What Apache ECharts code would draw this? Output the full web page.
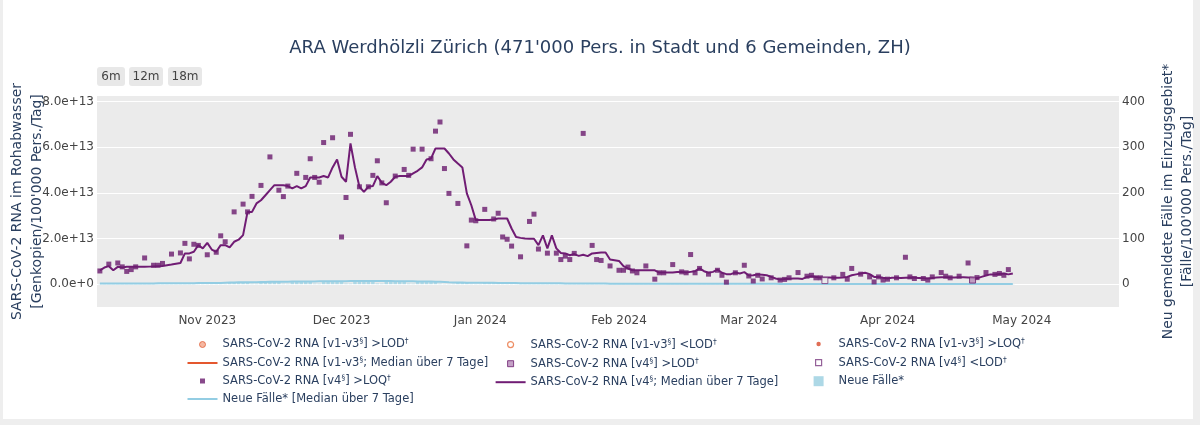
<!DOCTYPE html>
<html><head><meta charset="utf-8">
<script src="https://cdn.jsdelivr.net/npm/echarts@6/dist/echarts.min.js"></script>
<style>html,body{margin:0;padding:0;background:#fff}#c{width:1200px;height:425px}</style>
</head><body><div id="c"></div>
<script>
// ---------- DATA ----------
const titleText = "ARA Werdhölzli Zürich (471'000 Pers. in Stadt und 6 Gemeinden, ZH)";
const monthNames = ['Jan','Feb','Mar','Apr','May','Jun','Jul','Aug','Sep','Oct','Nov','Dec'];
const rangeButtons = ['6m', '12m', '18m'];
const leftTickValuesE13 = [0, 2, 4, 6, 8];
const rightTickValues = [0, 100, 200, 300, 400];

// SARS-CoV-2 RNA [v4] >LOQ measurements (values in 1e13 Genkopien/100'000 Pers./Tag)
const v4LoqDates = ['2023-10-08','2023-10-10','2023-10-12','2023-10-13','2023-10-14','2023-10-15','2023-10-16','2023-10-18','2023-10-20','2023-10-21','2023-10-22','2023-10-24','2023-10-26','2023-10-27','2023-10-28','2023-10-29','2023-10-30','2023-11-01','2023-11-03','2023-11-04','2023-11-05','2023-11-07','2023-11-09','2023-11-10','2023-11-11','2023-11-13','2023-11-15','2023-11-17','2023-11-18','2023-11-19','2023-11-21','2023-11-23','2023-11-24','2023-11-25','2023-11-26','2023-11-27','2023-11-29','2023-12-01','2023-12-02','2023-12-03','2023-12-05','2023-12-07','2023-12-08','2023-12-09','2023-12-10','2023-12-11','2023-12-13','2023-12-15','2023-12-16','2023-12-17','2023-12-19','2023-12-21','2023-12-22','2023-12-23','2023-12-24','2023-12-25','2023-12-27','2023-12-29','2023-12-30','2023-12-31','2024-01-02','2024-01-04','2024-01-05','2024-01-06','2024-01-07','2024-01-08','2024-01-10','2024-01-12','2024-01-13','2024-01-14','2024-01-16','2024-01-18','2024-01-19','2024-01-20','2024-01-21','2024-01-22','2024-01-24','2024-01-26','2024-01-27','2024-01-28','2024-01-30','2024-02-01','2024-02-02','2024-02-03','2024-02-04','2024-02-05','2024-02-07','2024-02-09','2024-02-10','2024-02-11','2024-02-13','2024-02-15','2024-02-16','2024-02-17','2024-02-18','2024-02-19','2024-02-21','2024-02-23','2024-02-24','2024-02-25','2024-02-27','2024-02-29','2024-03-01','2024-03-02','2024-03-03','2024-03-04','2024-03-06','2024-03-08','2024-03-09','2024-03-10','2024-03-12','2024-03-14','2024-03-15','2024-03-16','2024-03-17','2024-03-20','2024-03-22','2024-03-23','2024-03-24','2024-03-26','2024-03-28','2024-03-29','2024-03-30','2024-03-31','2024-04-01','2024-04-03','2024-04-05','2024-04-06','2024-04-07','2024-04-09','2024-04-10','2024-04-11','2024-04-13','2024-04-14','2024-04-15','2024-04-17','2024-04-19','2024-04-21','2024-04-23','2024-04-25','2024-04-26','2024-04-27','2024-04-28'];
const v4LoqValuesE13 = [0.58,0.88,0.93,0.76,0.56,0.64,0.76,1.15,0.83,0.83,0.91,1.32,1.37,1.79,1.11,1.75,1.70,1.29,1.40,2.12,1.86,3.17,3.51,3.17,3.85,4.33,5.58,4.12,3.84,4.30,4.86,4.68,5.50,4.68,4.47,6.21,6.42,2.07,3.80,6.57,4.27,4.27,4.77,5.41,4.44,3.57,4.74,5.03,4.77,5.92,5.92,5.50,6.71,7.11,5.07,3.98,3.54,1.68,2.81,2.78,3.28,2.86,3.11,2.07,1.97,1.67,1.20,2.75,3.07,1.54,1.36,1.36,1.08,1.23,1.08,1.35,6.61,1.70,1.08,1.04,0.80,0.61,0.61,0.75,0.58,0.50,0.80,0.22,0.50,0.50,0.86,0.54,0.50,1.30,0.50,0.69,0.44,0.61,0.39,0.09,0.50,0.83,0.36,0.14,0.39,0.23,0.28,0.18,0.21,0.28,0.51,0.35,0.39,0.28,0.28,0.28,0.43,0.22,0.69,0.44,0.32,0.10,0.32,0.18,0.22,0.28,1.18,0.32,0.25,0.25,0.18,0.32,0.51,0.35,0.28,0.35,0.93,0.29,0.51,0.43,0.47,0.39,0.64];

// [v4] >LOD and <LOD measurements
const v4LodDates = ['2024-04-20'];
const v4LodValuesE13 = [0.18];
const v4BelowLodDates = ['2024-03-18'];
const v4BelowLodValuesE13 = [0.16];

// Daily series start (one value per day from this date)
const dailyStart = [2023, 10, 8];

// [v4] Median über 7 Tage (1e13 units), daily from 2023-10-08
const v4MedianE13 = [
0.61,0.73,0.79,0.61,0.76,0.73,0.76,0.76,0.76,0.76,
0.76,0.77,0.78,0.79,0.80,0.83,0.86,0.90,0.93,1.35,
1.35,1.42,1.71,1.57,1.81,1.52,1.42,1.71,1.71,1.61,
1.86,1.95,2.15,3.17,3.17,3.54,3.68,3.90,4.12,4.34,
4.34,4.34,4.30,4.20,4.30,4.20,4.30,4.68,4.68,4.68,
4.74,4.68,5.12,5.47,4.71,4.49,6.17,5.12,4.27,4.05,
4.27,4.30,4.74,4.44,4.34,4.49,4.71,4.74,4.74,4.74,
4.86,4.97,5.12,5.47,5.51,5.95,5.95,5.95,5.73,5.47,
5.29,5.12,3.98,3.46,2.81,2.81,2.81,2.81,2.84,2.88,
2.88,2.88,2.44,2.07,2.03,2.00,1.99,1.99,1.71,2.14,
1.57,2.14,1.57,1.37,1.35,1.27,1.32,1.24,1.29,1.23,
1.35,1.37,1.39,1.39,1.08,1.05,1.02,0.79,0.69,0.61,
0.61,0.61,0.61,0.61,0.61,0.51,0.51,0.51,0.51,0.53,
0.54,0.51,0.54,0.57,0.69,0.57,0.50,0.54,0.64,0.50,
0.44,0.44,0.51,0.47,0.53,0.38,0.39,0.43,0.41,0.39,
0.32,0.25,0.21,0.23,0.24,0.25,0.25,0.23,0.32,0.35,
0.32,0.29,0.29,0.29,0.28,0.28,0.29,0.32,0.39,0.43,
0.47,0.50,0.44,0.32,0.32,0.28,0.25,0.28,0.28,0.27,
0.28,0.29,0.28,0.27,0.26,0.25,0.27,0.29,0.30,0.30,
0.29,0.29,0.30,0.30,0.29,0.28,0.26,0.32,0.38,0.43,
0.43,0.45,0.47,0.43,0.47];

// Neue Fälle* (Fälle/100'000 Pers./Tag), daily from 2023-10-08
const newCases = [
0.5,2.0,2.0,1.5,1.8,1.6,0.4, 0.5,2.2,2.0,1.8,1.7,1.5,0.5,
0.6,2.4,2.2,2.0,2.1,1.8,0.5, 0.6,2.8,2.6,2.5,2.7,2.4,0.7,
0.8,4.5,4.2,4.0,4.3,3.8,1.0, 0.9,5.5,5.2,5.0,5.3,4.6,1.2,
1.0,6.5,6.0,5.8,6.2,5.5,1.3, 1.1,7.0,6.6,6.4,6.8,6.0,1.4,
1.2,7.5,7.0,6.8,7.2,6.4,1.5, 1.2,7.2,6.8,6.5,6.9,6.2,1.4,
1.1,6.5,6.0,5.8,6.1,5.2,1.2, 0.5,0.6,0.8,3.5,3.8,3.2,0.8,
0.4,0.6,3.5,3.4,3.0,2.8,0.6, 0.5,2.6,2.4,2.2,2.3,2.0,0.5,
0.4,2.0,1.9,1.8,1.8,1.6,0.4, 0.4,1.6,1.5,1.4,1.4,1.2,0.3,
0.3,1.3,1.2,1.1,1.1,1.0,0.3, 0.3,1.1,1.0,0.9,1.0,0.8,0.2,
0.2,1.0,0.9,0.9,0.8,0.7,0.2, 0.2,0.9,0.8,0.8,0.8,0.7,0.2,
0.2,0.8,0.8,0.7,0.7,0.6,0.2, 0.2,0.8,0.7,0.7,0.6,0.6,0.2,
0.2,0.7,0.7,0.6,0.6,0.5,0.1, 0.2,0.7,0.6,0.6,0.6,0.5,0.1,
0.1,0.6,0.6,0.5,0.5,0.1,0.1, 0.1,0.1,0.7,0.6,0.5,0.5,0.1,
0.1,0.6,0.5,0.5,0.5,0.4,0.1, 0.1,0.5,0.5,0.5,0.4,0.4,0.1,
0.1,0.5,0.5,0.4,0.4,0.4,0.1, 0.1,0.4];

// Neue Fälle* [Median über 7 Tage], daily from 2023-10-08
const newCasesMedian = [
1.6,1.6,1.6,1.6,1.7,1.7,1.7, 1.7,1.7,1.7,1.7,1.7,1.7,1.8,
1.8,1.9,2.0,2.0,2.0,2.0,2.1, 2.2,2.4,2.5,2.5,2.5,2.6,2.8,
3.2,3.6,3.9,4.0,4.1,4.2,4.3, 4.5,4.8,5.0,5.1,5.2,5.2,5.3,
5.5,5.7,5.8,5.9,6.0,6.0,6.1, 6.2,6.3,6.4,6.5,6.5,6.6,6.7,
6.8,6.8,6.9,6.9,7.0,7.0,7.0, 7.0,6.9,6.8,6.7,6.6,6.5,6.4,
6.2,6.0,5.9,5.8,5.7,5.6,5.4, 4.8,4.0,3.6,3.6,3.5,3.4,3.3,
3.2,3.0,3.0,3.0,2.9,2.8,2.7, 2.6,2.5,2.4,2.3,2.3,2.2,2.1,
2.0,2.0,1.9,1.8,1.8,1.8,1.7, 1.6,1.6,1.5,1.5,1.4,1.4,1.4,
1.3,1.3,1.2,1.2,1.2,1.1,1.1, 1.1,1.0,1.0,1.0,1.0,0.9,0.9,
0.9,0.9,0.9,0.9,0.9,0.8,0.8, 0.8,0.8,0.8,0.8,0.8,0.8,0.8,
0.8,0.7,0.7,0.7,0.7,0.7,0.7, 0.7,0.7,0.7,0.7,0.7,0.6,0.6,
0.6,0.6,0.6,0.6,0.6,0.6,0.6, 0.6,0.6,0.6,0.6,0.6,0.6,0.6,
0.5,0.5,0.5,0.5,0.5,0.5,0.5, 0.5,0.5,0.5,0.5,0.5,0.5,0.5,
0.5,0.5,0.5,0.5,0.5,0.5,0.5, 0.5,0.5,0.5,0.5,0.4,0.4,0.4,
0.4,0.4,0.4,0.4,0.4,0.4,0.4, 0.4,0.4];

// Series names
const N_V13_LOD = 'SARS-CoV-2 RNA [v1-v3§] >LOD†';
const N_V13_BLOD = 'SARS-CoV-2 RNA [v1-v3§] <LOD†';
const N_V13_LOQ = 'SARS-CoV-2 RNA [v1-v3§] >LOQ†';
const N_V13_MED = 'SARS-CoV-2 RNA [v1-v3§; Median über 7 Tage]';
const N_V4_LOD = 'SARS-CoV-2 RNA [v4§] >LOD†';
const N_V4_BLOD = 'SARS-CoV-2 RNA [v4§] <LOD†';
const N_V4_LOQ = 'SARS-CoV-2 RNA [v4§] >LOQ†';
const N_V4_MED = 'SARS-CoV-2 RNA [v4§; Median über 7 Tage]';
const N_CASES = 'Neue Fälle*';
const N_CASES_MED = 'Neue Fälle* [Median über 7 Tage]';

// ---------- BUILD ----------
const E13 = 1e13;
function dayTs(i) { return new Date(dailyStart[0], dailyStart[1] - 1, dailyStart[2] + i).getTime(); }
const pairs = (dates, vals, f) => dates.map((d, i) => [d, vals[i] * f]);
const daily = (vals, f) => vals.map((v, i) => [dayTs(i), v * f]);

const xMin = new Date(2023, 9, 7, 18).getTime();
const xMax = new Date(2024, 4, 22, 8).getTime();
const yLeftMin = -1e13, yLeftMax = 8.25e13;
const yRightMin = -50, yRightMax = 412.5;

const FONT = 'DejaVu Sans';
const TXT = '#2a3f5f';
const TICK = '#444';
const C_V13 = '#e4572e';
const C_V4 = '#6a1b6e';
const C_V4_LINE = '#701c74';
const C_CASES = '#add8e6';
const C_CASES_LINE = '#93cde3';

const BOX = 'M0,0M30,14';
const icons = {
  circ: 'path://' + BOX + 'M12,7a3,3 0 1,0 6,0a3,3 0 1,0 -6,0z',
  dot: 'path://' + BOX + 'M12.8,7a2.2,2.2 0 1,0 4.4,0a2.2,2.2 0 1,0 -4.4,0z',
  line: 'path://' + BOX + 'M0,6h30v2h-30z',
  sq: 'path://' + BOX + 'M12,4h6v6h-6z',
  sqs: 'path://' + BOX + 'M12.5,4.5h5v5h-5z',
  swatch: 'path://' + BOX + 'M10,2h10v10h-10z'
};
const legendItems = {
  [N_V13_LOD]: {icon: icons.circ, itemStyle: {color: '#f3a58a', borderColor: '#e0603a', borderWidth: 1}},
  [N_V13_BLOD]: {icon: icons.circ, itemStyle: {color: '#ffffff', borderColor: '#e8703c', borderWidth: 1.2}},
  [N_V13_LOQ]: {icon: icons.dot, itemStyle: {color: '#d84a2b', borderWidth: 0}},
  [N_V13_MED]: {icon: icons.line, itemStyle: {color: C_V13, borderWidth: 0}},
  [N_V4_LOD]: {icon: icons.sq, itemStyle: {color: '#b58ab8', borderColor: C_V4, borderWidth: 1}},
  [N_V4_BLOD]: {icon: icons.sq, itemStyle: {color: '#ffffff', borderColor: '#7a3a80', borderWidth: 1.2}},
  [N_V4_LOQ]: {icon: icons.sqs, itemStyle: {color: C_V4, borderWidth: 0}},
  [N_V4_MED]: {icon: icons.line, itemStyle: {color: C_V4_LINE, borderWidth: 0}},
  [N_CASES]: {icon: icons.swatch, itemStyle: {color: C_CASES, borderWidth: 0}},
  [N_CASES_MED]: {icon: icons.line, itemStyle: {color: C_CASES_LINE, borderWidth: 0}}
};
const legendCols = [
  {left: 187, names: [N_V13_LOD, N_V13_MED, N_V4_LOQ, N_CASES_MED]},
  {left: 495, names: [N_V13_BLOD, N_V4_LOD, N_V4_MED]},
  {left: 803, names: [N_V13_LOQ, N_V4_BLOD, N_CASES]}
];
const legends = legendCols.map(col => ({
  orient: 'vertical', left: col.left, top: 337, padding: 0, itemWidth: 30, itemHeight: 14, itemGap: 4,
  selectedMode: false,
  data: col.names.map(n => Object.assign({name: n}, legendItems[n])),
  formatter: n => n.replace(/([§†])/g, '{s|$1}'),
  textStyle: {fontFamily: FONT, fontSize: 11.5, color: TXT, lineHeight: 14,
    rich: {s: {fontFamily: FONT, fontSize: 7.5, color: TXT, verticalAlign: 'top', lineHeight: 8}}}
}));

// range selector buttons and page frame (decorative)
const btnX = [97, 129, 168], btnW = [28, 34, 34];
const graphics = rangeButtons.map((t, i) => ({
  type: 'group', left: btnX[i], top: 67,
  children: [
    {type: 'rect', shape: {x: 0, y: 0, width: btnW[i], height: 19, r: 3}, style: {fill: '#e8e8e8'}},
    {type: 'text', style: {text: t, x: btnW[i] / 2, y: 9.5, align: 'center', verticalAlign: 'middle', fontFamily: FONT, fontSize: 12, fill: TICK}}
  ]
})).concat([
  {type: 'rect', left: 0, top: 0, shape: {width: 3, height: 425}, style: {fill: '#eeeeee'}, silent: true},
  {type: 'rect', right: 0, top: 0, shape: {width: 7, height: 425}, style: {fill: '#eeeeee'}, silent: true},
  {type: 'rect', left: 0, bottom: 0, shape: {width: 1200, height: 6}, style: {fill: '#eeeeee'}, silent: true}
]);

const chart = echarts.init(document.getElementById('c'), null, {renderer: 'canvas'});
chart.setOption({
  animation: false,
  backgroundColor: '#ffffff',
  title: {text: titleText, left: 'center', top: 34, textStyle: {fontFamily: FONT, fontSize: 18, fontWeight: 'normal', color: TXT}},
  grid: {left: 97, right: 81, top: 96, bottom: 118, show: true, backgroundColor: '#ebebeb', borderWidth: 0, containLabel: false, outerBoundsMode: 'none'},
  legend: legends,
  graphic: graphics,
  xAxis: {
    type: 'time', min: xMin, max: xMax, splitNumber: 8,
    minInterval: 28 * 86400000, maxInterval: 31 * 86400000,
    axisLine: {show: false}, axisTick: {show: false}, splitLine: {show: false},
    axisLabel: {fontFamily: FONT, fontSize: 12, color: TICK, margin: 8, hideOverlap: false,
      formatter: v => { const d = new Date(v); return d.getDate() === 1 ? monthNames[d.getMonth()] + ' ' + d.getFullYear() : ''; }}
  },
  yAxis: [
    {
      type: 'value', position: 'left', min: yLeftMin, max: yLeftMax, interval: 1e13,
      axisLine: {show: false}, axisTick: {show: false},
      splitLine: {show: true, lineStyle: {color: ['rgba(0,0,0,0)', '#ffffff'], width: 1}},
      axisLabel: {fontFamily: FONT, fontSize: 12, color: TICK, margin: 3,
        formatter: v => { const k = Math.round(v / E13); if (Math.abs(v - k * E13) > 1e9 || !leftTickValuesE13.includes(k)) return ''; return k === 0 ? '0.0e+0' : k.toFixed(1) + 'e+13'; }},
      name: "SARS-CoV-2 RNA im Rohabwasser\n[Genkopien/100'000 Pers./Tag]",
      nameLocation: 'middle', nameRotate: 90, nameGap: 50, nameMoveOverlap: false,
      nameTextStyle: {fontFamily: FONT, fontSize: 14, color: TXT, lineHeight: 20}
    },
    {
      type: 'value', position: 'right', min: yRightMin, max: yRightMax, interval: 50,
      axisLine: {show: false}, axisTick: {show: false}, splitLine: {show: false},
      axisLabel: {fontFamily: FONT, fontSize: 12, color: TICK, margin: 3,
        formatter: v => rightTickValues.includes(Math.round(v)) && Math.abs(v - Math.round(v)) < 1e-6 ? String(Math.round(v)) : ''},
      name: "Neu gemeldete Fälle im Einzugsgebiet*\n[Fälle/100'000 Pers./Tag]",
      nameLocation: 'middle', nameRotate: 90, nameGap: 40, nameMoveOverlap: false,
      nameTextStyle: {fontFamily: FONT, fontSize: 14, color: TXT, lineHeight: 19}
    }
  ],
  series: [
    {name: N_CASES, type: 'bar', yAxisIndex: 1, data: daily(newCases, 1), barWidth: 3.5, itemStyle: {color: C_CASES}, z: 1},
    {name: N_CASES_MED, type: 'line', yAxisIndex: 1, data: daily(newCasesMedian, 1), showSymbol: false, symbol: 'none', lineStyle: {color: C_CASES_LINE, width: 2}, itemStyle: {color: C_CASES_LINE}, z: 2},
    {name: N_V13_LOD, type: 'scatter', data: [], itemStyle: {color: '#f3a58a'}},
    {name: N_V13_BLOD, type: 'scatter', data: [], itemStyle: {color: '#ffffff'}},
    {name: N_V13_LOQ, type: 'scatter', data: [], itemStyle: {color: '#d84a2b'}},
    {name: N_V13_MED, type: 'line', data: [], symbol: 'none', itemStyle: {color: C_V13}},
    {name: N_V4_MED, type: 'line', data: daily(v4MedianE13, E13), showSymbol: false, symbol: 'none', lineStyle: {color: C_V4_LINE, width: 2}, itemStyle: {color: C_V4_LINE}, z: 3},
    {name: N_V4_LOQ, type: 'scatter', data: pairs(v4LoqDates, v4LoqValuesE13, E13), symbol: 'rect', symbolSize: 5, itemStyle: {color: C_V4}, z: 4},
    {name: N_V4_LOD, type: 'scatter', data: pairs(v4LodDates, v4LodValuesE13, E13), symbol: 'rect', symbolSize: 6, itemStyle: {color: '#b58ab8', borderColor: C_V4, borderWidth: 1}, z: 4},
    {name: N_V4_BLOD, type: 'scatter', data: pairs(v4BelowLodDates, v4BelowLodValuesE13, E13), symbol: 'rect', symbolSize: 6, itemStyle: {color: '#ebebeb', borderColor: '#7a3a80', borderWidth: 1}, z: 4}
  ]
});
</script>
</body></html>
